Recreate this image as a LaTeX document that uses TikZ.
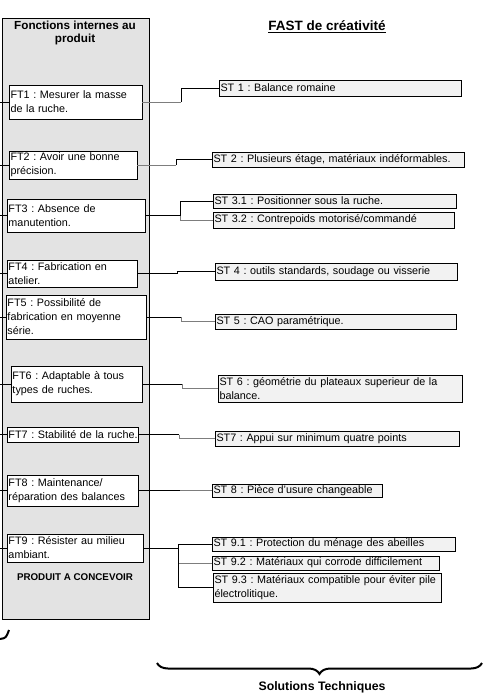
\documentclass[tikz,border=0pt]{standalone}
\usepackage{fontspec}
\setmainfont{Liberation Sans}
\frenchspacing
\usetikzlibrary{positioning,decorations.pathreplacing}
\definecolor{fondpanneau}{RGB}{227,227,227}
\definecolor{fondst}{RGB}{242,242,242}
\definecolor{traitgris}{RGB}{125,125,125}

\begin{document}
\begin{tikzpicture}[x=1pt,y=-1pt]

  \tikzstyle{every node}=[font=\fontsize{10.8}{14}\selectfont]
  \tikzstyle{ft}=[draw, fill=white, anchor=north west, align=left, inner xsep=1.5pt, inner ysep=0.5pt, outer sep=0pt]
  \tikzstyle{st}=[ft, fill=fondst]
  \tikzstyle{lien}=[line width=0.8pt]
  \tikzstyle{liengris}=[lien, draw=traitgris]

  \useasboundingbox (0,0) rectangle (488,697);
  \coordinate (bord) at (0,0);

  % bloc produit
  \node[draw, fill=fondpanneau, anchor=north west, minimum width=147pt, minimum height=601pt, inner sep=0pt, outer sep=0pt] (panneau) at (2,18) {};
  \node[font=\bfseries\fontsize{11.7}{13.5}\selectfont, align=center] (titrefi) at (75,33) {Fonctions internes au\\produit};
  \node[font=\bfseries\fontsize{9.8}{11}\selectfont] (produit) at (75,577) {PRODUIT A CONCEVOIR};

  \node[font=\bfseries\fontsize{13.5}{15}\selectfont] (titre) at (327,27) {\underline{FAST de créativité}};

  % fonctions techniques
  \node[ft, text width=130pt, minimum height=34pt] (ft1) at (9,85) {FT1 : Mesurer la masse\\de la ruche.};
  \node[ft, text width=125pt, minimum height=28pt] (ft2) at (9,151) {FT2 : Avoir une bonne\\précision.};
  \node[ft, text width=135pt, minimum height=33pt] (ft3) at (7,199) {FT3 : Absence de\\manutention.};
  \node[ft, text width=127pt, minimum height=27pt] (ft4) at (7,260) {FT4 : Fabrication en\\atelier.};
  \node[ft, text width=137pt, minimum height=44pt] (ft5) at (6,295) {FT5 : Possibilité de\\fabrication en moyenne\\série.};
  \node[ft, text width=128pt, minimum height=36pt] (ft6) at (11,366) {FT6 : Adaptable à tous\\types de ruches.};
  \node[ft, text width=128pt, minimum height=15pt] (ft7) at (7,427) {\mbox{FT7 : Stabilité de la ruche.}};
  \node[ft, text width=128pt, minimum height=31pt] (ft8) at (7,475) {FT8 : Maintenance/\\réparation des balances};
  \node[ft, text width=133pt, minimum height=28pt] (ft9) at (7,534) {FT9 : Résister au milieu\\ambiant.};

  % solutions techniques
  \node[st, text width=239pt, minimum height=16pt] (st1) at (219,80) {ST 1 : Balance romaine};
  \node[st, text width=249pt, minimum height=15pt] (st2) at (212,152) {ST 2 : Plusieurs étage, matériaux indéformables.};
  \node[st, text width=240pt, minimum height=14pt] (st31) at (213,194) {ST 3.1 : Positionner sous la ruche.};
  \node[st, text width=238pt, minimum height=16pt] (st32) at (213,212) {ST 3.2 : Contrepoids motorisé/commandé};
  \node[st, text width=239pt, minimum height=17pt] (st4) at (215,263) {ST 4 : outils standards, soudage ou visserie};
  \node[st, text width=238pt, minimum height=15pt] (st5) at (215,314) {ST 5 : CAO paramétrique.};
  \node[st, text width=241pt, minimum height=27pt] (st6) at (218,375) {ST 6 : géométrie du plateaux superieur de la\\balance.};
  \node[st, text width=241pt, minimum height=15pt] (st7) at (215,431) {ST7 : Appui sur minimum quatre points};
  \node[st, text width=167pt, minimum height=13pt] (st8) at (212,484) {ST 8 : Pièce d'usure changeable};
  \node[st, text width=240pt, minimum height=14pt] (st91) at (212,537) {ST 9.1 : Protection du ménage des abeilles};
  \node[st, text width=224pt, minimum height=14pt] (st92) at (212,556) {ST 9.2 : Matériaux qui corrode difficilement};
  \node[st, text width=225pt, minimum height=29pt] (st93) at (213,573) {ST 9.3 : Matériaux compatible pour éviter pile\\électrolitique.};

  % liaisons vers le bord
  \foreach \f in {ft1,ft2,ft3,ft4,ft5,ft6,ft7,ft8,ft9}
    \draw[lien] (\f.west) -- (\f.west -| bord);

  % liaisons FT -> ST
  \draw[liengris] (ft1.east) -- ++(39,0) coordinate (c1);
  \draw[lien] (c1) |- (st1.west);
  \draw[liengris] (ft2.east) -- ++(39,0) coordinate (c2);
  \draw[lien] (c2) |- (st2.west);
  \draw[lien] (ft3.east) -- ++(35,0) coordinate (c3);
  \draw[lien] (c3) |- (st31.west);
  \draw[liengris] (c3) |- (st32.west);
  \draw[lien] (ft4.east) -- ++(40,0) coordinate (c4);
  \draw[lien] (c4) |- (st4.west);
  \draw[lien] (ft5.east) -- ++(35,0) coordinate (c5);
  \draw[liengris] (c5) |- (st5.west);
  \draw[lien] (ft6.east) -- ++(40,0) coordinate (c6);
  \draw[liengris] (c6) |- (st6.west);
  \draw[lien] (ft7.east) -- ++(41,0) coordinate (c7);
  \draw[liengris] (c7) |- (st7.west);
  \draw[lien] (ft8.east) -- ++(42,0) coordinate (c8);
  \draw[liengris] (c8) |- (st8.west);
  \draw[lien] (ft9.east) -- ++(35,0) coordinate (c9);
  \draw[lien] (c9) |- (st91.west);
  \draw[liengris] (c9) |- (st92.west);
  \draw[lien] (c9) |- (st93.west);

  % accolades
  \coordinate (acga) at (157,663);
  \coordinate (acdr) at (482,663);
  \draw[line width=2pt, decorate, decoration={brace, amplitude=11pt, mirror}] (acga) -- (acdr);
  \node[font=\bfseries\fontsize{12.3}{14}\selectfont] (soltech) at (322,687) {Solutions Techniques};
  \draw[line width=2pt] (0,639) .. controls (6,638) .. (9,630);

\end{tikzpicture}
\end{document}
